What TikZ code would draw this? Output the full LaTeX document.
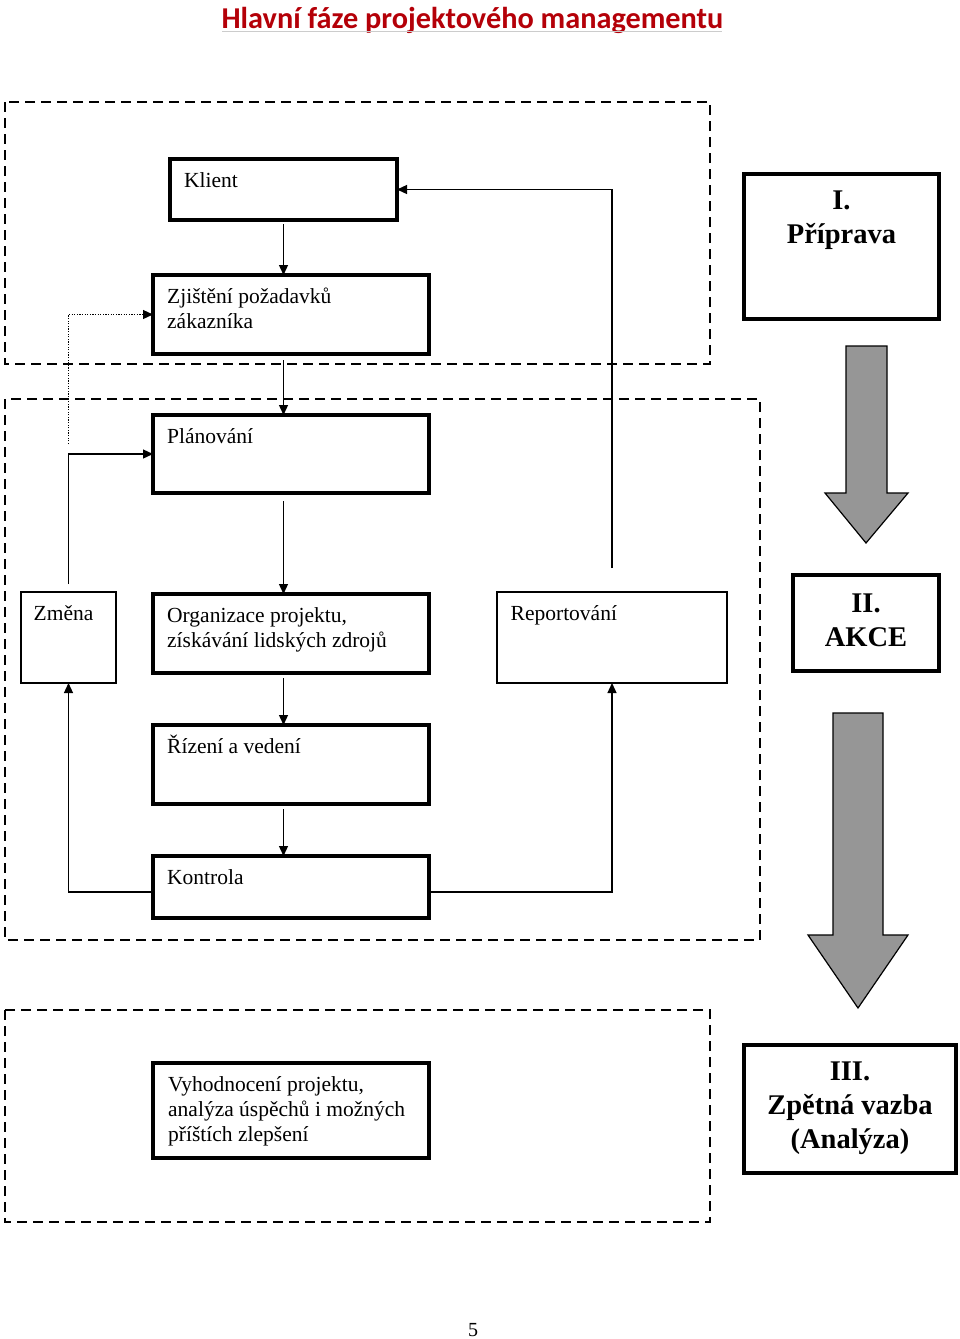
\documentclass[tikz,border=0pt]{standalone}
\usepackage{fontspec}
\setmainfont{Liberation Serif}
\newfontfamily\titlefont{Carlito}
\usetikzlibrary{arrows.meta}
\definecolor{titlered}{RGB}{180,0,8}
\definecolor{arrowgray}{RGB}{150,150,150}
\begin{document}
\begin{tikzpicture}[x=1pt,y=-1pt,
  thickbox/.style={draw, line width=4.3pt, inner sep=0pt, outer sep=0pt},
  thinbox/.style={draw, line width=1.3pt, inner sep=0pt, outer sep=0pt},
  boxtext/.style={anchor=north west, inner sep=0pt, align=left, font=\fontsize{21.5}{25}\selectfont},
  phasetext/.style={anchor=north, inner sep=0pt, align=center, font=\fontsize{28.5}{34}\selectfont\bfseries},
  conn/.style={line width=1.3pt, -{Triangle[length=10pt,width=9pt]}},
  dotconn/.style={conn, dash pattern=on 1.3pt off 1.3pt},
  zone/.style={dash pattern=on 10pt off 6pt, line width=1.5pt},
  bigarrow/.style={fill=arrowgray, draw=black, line width=1.2pt}]
\useasboundingbox (0,0) rectangle (960,1339);

% title
\node[anchor=base, inner sep=0pt, text=titlered, font=\titlefont\bfseries\fontsize{30.3}{34}\selectfont] (title) at (472.5,28.5) {Hlavní fáze projektového managementu};
\draw[black!20, line width=1pt] (222,31) -- (722,31);

% dashed zones
\draw[zone] (5,102) rectangle (710,364);
\draw[zone] (5,399) rectangle (760,940);
\draw[zone] (5,1010) rectangle (710,1222);

% boxes
\node[thickbox, minimum width=227pt, minimum height=61pt] (klient) at (283.5,189.5) {};
\node[thickbox, minimum width=276pt, minimum height=79pt] (zjist) at (291,314.5) {};
\node[thickbox, minimum width=276pt, minimum height=78pt] (plan) at (291,454) {};
\node[thickbox, minimum width=276pt, minimum height=79pt] (org) at (291,633.5) {};
\node[thickbox, minimum width=276pt, minimum height=79pt] (rizeni) at (291,764.5) {};
\node[thickbox, minimum width=276pt, minimum height=62pt] (kontrola) at (291,887) {};
\node[thickbox, minimum width=276pt, minimum height=95pt] (vyhod) at (291,1110.5) {};
\node[thinbox, minimum width=95pt, minimum height=91pt] (zmena) at (68.5,637.5) {};
\node[thinbox, minimum width=230pt, minimum height=91pt] (report) at (612,637.5) {};

\node[thickbox, minimum width=195pt, minimum height=145pt] (prip) at (841.5,246.5) {};
\node[thickbox, minimum width=146pt, minimum height=96pt] (akce) at (866,623) {};
\node[thickbox, minimum width=212pt, minimum height=128pt] (zpet) at (850,1109) {};

% box texts
\node[boxtext] (tklient) at ([xshift=14pt,yshift=-9pt]klient.north west) {\rule{0pt}{19pt}Klient};
\node[boxtext] (tzjist) at ([xshift=14pt,yshift=-9pt]zjist.north west) {\rule{0pt}{19pt}Zjištění požadavků\\zákazníka};
\node[boxtext] (tplan) at ([xshift=14pt,yshift=-9pt]plan.north west) {\rule{0pt}{19pt}Plánování};
\node[boxtext] (torg) at ([xshift=14pt,yshift=-9pt]org.north west) {\rule{0pt}{19pt}Organizace projektu,\\získávání lidských zdrojů};
\node[boxtext] (trizeni) at ([xshift=14pt,yshift=-9pt]rizeni.north west) {\rule{0pt}{19pt}Řízení a vedení};
\node[boxtext] (tkontrola) at ([xshift=14pt,yshift=-9pt]kontrola.north west) {\rule{0pt}{19pt}Kontrola};
\node[boxtext] (tvyhod) at ([xshift=15pt,yshift=-9pt]vyhod.north west) {\rule{0pt}{19pt}Vyhodnocení projektu,\\analýza úspěchů i možných\\příštích zlepšení};
\node[boxtext] (tzmena) at ([xshift=12.5pt,yshift=-9pt]zmena.north west) {\rule{0pt}{19pt}Změna};
\node[boxtext] (treport) at ([xshift=13.5pt,yshift=-9pt]report.north west) {\rule{0pt}{19pt}Reportování};

\node[phasetext] (tprip) at ([yshift=-9pt]prip.north) {\rule{0pt}{26pt}I.\\Příprava};
\node[phasetext] (takce) at ([yshift=-11pt]akce.north) {\rule{0pt}{26pt}II.\\AKCE};
\node[phasetext] (tzpet) at ([yshift=-9pt]zpet.north) {\rule{0pt}{26pt}III.\\Zpětná vazba\\(Analýza)};

% connectors
\draw[conn, shorten <=4pt] (klient.south) -- (klient.south |- zjist.north);
\draw[conn, shorten <=6pt] (klient.south |- zjist.south) -- (klient.south |- plan.north);
\draw[conn, shorten <=8pt] (klient.south |- plan.south) -- (klient.south |- org.north);
\draw[conn, shorten <=5pt] (klient.south |- org.south) -- (klient.south |- rizeni.north);
\draw[conn, shorten <=5pt] (klient.south |- rizeni.south) -- (klient.south |- kontrola.north);
\draw[conn] ([yshift=-5pt]kontrola.east) -| (report.south);
\draw[conn] ([yshift=-5pt]kontrola.west) -| (zmena.south);
\draw[conn] ([yshift=8pt]zmena.north) |- (plan.west);
\draw[conn] ([yshift=24pt]report.north) |- (klient.east);
\draw[dotconn] ([yshift=148pt]zmena.north) |- (zjist.west);

% big grey arrows
\draw[bigarrow] (846,346) -- (887,346) -- (887,493) -- (908,493) -- (866,543) -- (825,493) -- (846,493) -- cycle;
\draw[bigarrow] (833,713) -- (883,713) -- (883,935) -- (908,935) -- (858,1008) -- (808,935) -- (833,935) -- cycle;

% page number
\node[anchor=base, inner sep=0pt, font=\fontsize{20}{24}\selectfont] (pnum) at (473,1336) {5};
\end{tikzpicture}
\end{document}
